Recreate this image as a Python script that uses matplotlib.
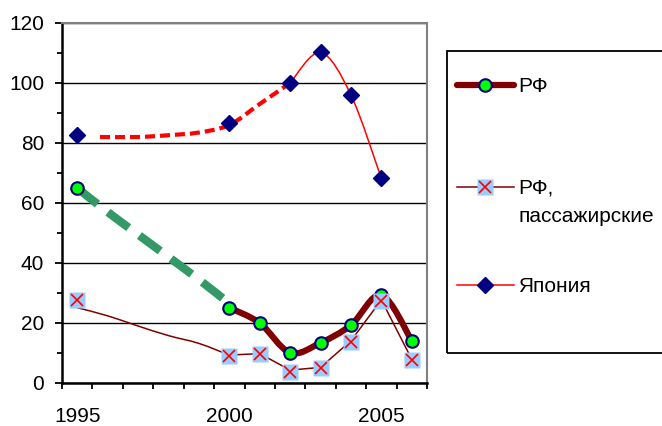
import matplotlib.pyplot as plt
from matplotlib.path import Path
from matplotlib.patches import PathPatch, Rectangle
from matplotlib.lines import Line2D

plt.rcParams['font.family'] = ['Liberation Sans', 'DejaVu Sans']

# markers
rf_years = [1995, 2000, 2001, 2002, 2003, 2004, 2005, 2006]
rf_vals = [65, 25.1, 20, 10.1, 13.4, 19.3, 29.3, 14.1]
pass_years = [1995, 2000, 2001, 2002, 2003, 2004, 2005, 2006]
pass_vals = [27.7, 9.1, 9.7, 3.8, 5.1, 13.7, 27.5, 7.8]
jp_years = [1995, 2000, 2002, 2003, 2004, 2005]
jp_vals = [82.7, 86.8, 100, 110.2, 96, 68.2]

# lines (drawn separately from the markers in the original)
rf_trend_years = [1995, 1996, 1997, 1998, 1999, 2000]
rf_trend = [65, 57, 49.5, 42, 34.5, 26.5]
rf_line_years = [2000, 2001, 2002, 2003, 2004, 2005, 2006]
rf_line = [25.1, 20, 10.1, 13.4, 19.3, 29.3, 14.1]
pass_line_years = [1995, 1996, 1997, 1998, 1999, 2000, 2001, 2002, 2003, 2004, 2005, 2006]
pass_line = [25.1, 22.4, 19.0, 15.8, 13.2, 9.3, 9.8, 4.3, 5.2, 14.1, 27.7, 7.9]
jp_dash_years = [1995.75, 1997, 1998, 1999, 2000, 2001, 2002]
jp_dash = [82, 82, 82.6, 83.5, 86, 93, 100]
jp_line_years = [2002, 2003, 2004, 2005]
jp_line = [100, 110.2, 96, 68.2]

labels = ["РФ", "РФ,", "пассажирские", "Япония"]
FS = 15


def smooth(ax, xs, ys, **kw):
    # excel-like smoothed line: bezier segments through the points
    pts = list(zip(xs, ys))
    n = len(pts)
    verts = [pts[0]]
    codes = [Path.MOVETO]
    for i in range(n - 1):
        p0 = pts[max(i - 1, 0)]
        p1 = pts[i]
        p2 = pts[i + 1]
        p3 = pts[min(i + 2, n - 1)]
        c1 = (p1[0] + (p2[0] - p0[0]) / 6, p1[1] + (p2[1] - p0[1]) / 6)
        c2 = (p2[0] - (p3[0] - p1[0]) / 6, p2[1] - (p3[1] - p1[1]) / 6)
        verts += [c1, c2, p2]
        codes += [Path.CURVE4] * 3
    patch = PathPatch(Path(verts, codes), fill=False, **kw)
    ax.add_patch(patch)


fig = plt.figure(figsize=(6.62, 4.26), dpi=100)
ax = fig.add_axes([62 / 662, 1 - 383 / 426, 365 / 662, 360 / 426])

green = '#339966'
dred = '#800000'
navy = '#000080'

smooth(ax, rf_trend_years, rf_trend, edgecolor=green, linewidth=6,
       linestyle=(0, (3.1, 1.6)), capstyle='butt', zorder=3)
smooth(ax, rf_line_years, rf_line, edgecolor=dred, linewidth=4.5,
       joinstyle='round', capstyle='round', zorder=3)
ax.plot(rf_years, rf_vals, 'o', ms=9, mfc='#00FF00', mec=navy, mew=1.5, zorder=4)

smooth(ax, pass_line_years[:6], pass_line[:6], edgecolor=dred, linewidth=1.1, zorder=5)
ax.plot(pass_line_years[5:], pass_line[5:], color=dred, lw=1.1, zorder=5)
ax.plot(pass_years, pass_vals, 's', ms=11, mfc='#99CCFF', mec='none', zorder=6)
ax.plot(pass_years, pass_vals, 'x', ms=9, mec='#FF0000', mew=1.2, zorder=7)

smooth(ax, jp_dash_years, jp_dash, edgecolor='#FF0000', linewidth=3,
       linestyle=(0, (2.4, 1.2)), capstyle='butt', zorder=5)
smooth(ax, jp_line_years, jp_line, edgecolor='#FF0000', linewidth=1.1, zorder=5)
ax.plot(jp_years, jp_vals, 'D', ms=8, mfc=navy, mec=navy, zorder=7)

ax.set_xlim(1994.5, 2006.5)
ax.set_ylim(0, 120)
ax.set_xticks([y + 0.5 for y in range(1994, 2007)])
ax.set_xticklabels([])
ax.set_xticks([1995, 2000, 2005], minor=True)
ax.set_xticklabels(['1995', '2000', '2005'], minor=True)
ax.tick_params(axis='x', which='major', direction='out', length=4.5, width=1.3)
ax.tick_params(axis='x', which='minor', length=0, pad=17, labelsize=FS)
ax.set_yticks(range(0, 121, 20))
ax.set_yticks(range(10, 120, 20), minor=True)
ax.tick_params(axis='y', which='major', direction='out', length=5.3, width=1.3,
               pad=7.5, labelsize=FS)
ax.tick_params(axis='y', which='minor', direction='out', length=3.5, width=1.3)
ax.yaxis.grid(True, which='major', color='black', linewidth=1)
ax.set_axisbelow(True)
for s in ['left', 'bottom']:
    ax.spines[s].set_color('black')
    ax.spines[s].set_linewidth(1.8)
for s in ['top', 'right']:
    ax.spines[s].set_color('#808080')
    ax.spines[s].set_linewidth(1.5)

# legend box, drawn by hand so it can run off the right edge like the original
W, H = 662, 426


def fx(px):
    return px / W


def fy(py):
    return 1 - py / H


fig.add_artist(Rectangle((fx(447), fy(353)), fx(300), (353 - 51) / H,
                         transform=fig.transFigure, fill=False,
                         edgecolor='black', linewidth=1.3))
lx = [fx(457), fx(514)]
mx = [fx(485)]
y1, y2, y3 = fy(85), fy(187), fy(285)
fig.add_artist(Line2D(lx, [y1, y1], color=dred, lw=4.5, solid_capstyle='round'))
fig.add_artist(Line2D(mx, [y1], marker='o', ms=9, mfc='#00FF00', mec=navy, mew=1.5))
fig.add_artist(Line2D(lx, [y2, y2], color=dred, lw=1.1))
fig.add_artist(Line2D(mx, [y2], marker='s', ms=11, mfc='#99CCFF', mec='none'))
fig.add_artist(Line2D(mx, [y2], marker='x', ms=9, mec='#FF0000', mew=1.2))
fig.add_artist(Line2D(lx, [y3, y3], color='#FF0000', lw=1.1))
fig.add_artist(Line2D(mx, [y3], marker='D', ms=8, mfc=navy, mec=navy))

tx = fx(518)
fig.text(tx, fy(86), labels[0], fontsize=FS, va='center')
fig.text(tx, fy(188), labels[1], fontsize=FS, va='center')
fig.text(tx, fy(216), labels[2], fontsize=FS, va='center')
fig.text(tx, fy(286), labels[3], fontsize=FS, va='center')

fig.savefig('out.png', dpi=100, facecolor='white')
